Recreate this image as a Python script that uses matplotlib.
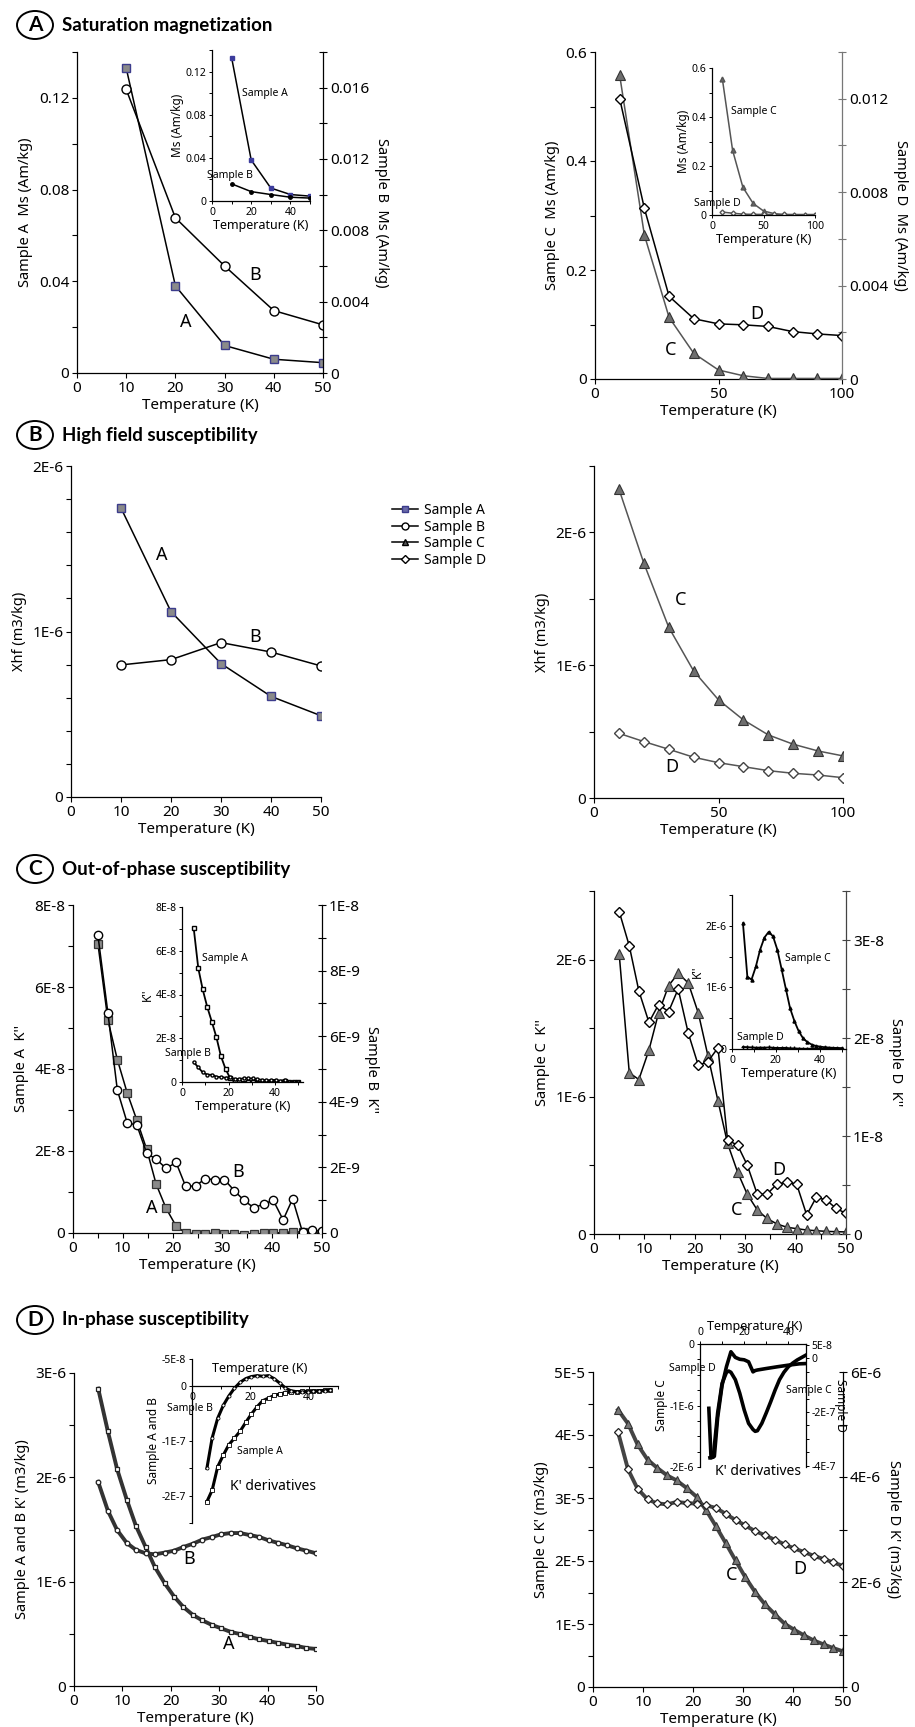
import matplotlib
matplotlib.use("Agg")
import matplotlib.pyplot as plt
from matplotlib.patches import Ellipse
from matplotlib.lines import Line2D

plt.rcParams['font.family'] = ['Noto Sans', 'DejaVu Sans']
plt.rcParams['axes.linewidth'] = 0.9

W, H = 915, 1727
BOLD = ['Lato', 'Open Sans', 'DejaVu Sans']

# ---------------- data ----------------
# A: saturation magnetization
T_ms_ab = [10, 20, 30, 40, 50]
ms_a = [0.133, 0.038, 0.012, 0.006, 0.0045]
ms_b = [0.0159, 0.0087, 0.0060, 0.0035, 0.0027]
T_ms_cd = [10, 20, 30, 40, 50, 60, 70, 80, 90, 100]
ms_c = [0.557, 0.264, 0.113, 0.047, 0.0165, 0.006, 0.001, 0.001, 0.001, 0.001]
ms_d = [0.0120, 0.0073, 0.00354, 0.00258, 0.00236, 0.00232, 0.00225, 0.00203, 0.00193, 0.00186]

# B: high field susceptibility
xhf_a = [1.746e-6, 1.12e-6, 0.806e-6, 0.608e-6, 0.491e-6]
xhf_b = [0.798e-6, 0.830e-6, 0.933e-6, 0.876e-6, 0.792e-6]
xhf_c = [2.327e-6, 1.769e-6, 1.286e-6, 0.957e-6, 0.739e-6, 0.588e-6, 0.475e-6, 0.405e-6, 0.354e-6, 0.317e-6]
xhf_d = [0.487e-6, 0.425e-6, 0.367e-6, 0.307e-6, 0.266e-6, 0.236e-6, 0.206e-6, 0.186e-6, 0.173e-6, 0.153e-6]

# C and D: ac susceptibility temperatures
T_ac = [5.0, 7.0, 8.9, 10.9, 12.8, 14.8, 16.7, 18.7, 20.7, 22.6, 24.6, 26.5,
        28.5, 30.4, 32.4, 34.3, 36.3, 38.3, 40.2, 42.2, 44.1, 46.1, 48.0, 50.0]

# C: out-of-phase susceptibility
kpp_a = [7.06e-8, 5.20e-8, 4.23e-8, 3.41e-8, 2.76e-8, 2.04e-8, 1.19e-8, 0.60e-8, 0.17e-8,
         0.0, -0.02e-8, -0.03e-8, 0.0, -0.02e-8, -0.03e-8, -0.05e-8, -0.03e-8, -0.01e-8,
         0.0, 0.01e-8, 0.03e-8, 0.02e-8, 0.0, 0.0]
kpp_b = [9.08e-9, 6.72e-9, 4.36e-9, 3.35e-9, 3.30e-9, 2.43e-9, 2.25e-9, 1.97e-9, 2.15e-9,
         1.43e-9, 1.43e-9, 1.65e-9, 1.63e-9, 1.63e-9, 1.29e-9, 1.00e-9, 0.77e-9, 0.88e-9,
         1.00e-9, 0.40e-9, 1.04e-9, 0.02e-9, 0.08e-9, 0.05e-9]
kpp_c = [2.04e-6, 1.175e-6, 1.126e-6, 1.34e-6, 1.61e-6, 1.81e-6, 1.90e-6, 1.83e-6, 1.61e-6,
         1.30e-6, 0.97e-6, 0.66e-6, 0.45e-6, 0.29e-6, 0.175e-6, 0.114e-6, 0.073e-6, 0.049e-6,
         0.039e-6, 0.029e-6, 0.024e-6, 0.019e-6, 0.017e-6, 0.015e-6]
kpp_d = [3.29e-8, 2.94e-8, 2.48e-8, 2.16e-8, 2.34e-8, 2.27e-8, 2.50e-8, 2.05e-8, 1.72e-8,
         1.76e-8, 1.90e-8, 0.96e-8, 0.905e-8, 0.704e-8, 0.405e-8, 0.405e-8, 0.51e-8, 0.527e-8,
         0.51e-8, 0.194e-8, 0.374e-8, 0.347e-8, 0.262e-8, 0.21e-8]

# D: in-phase susceptibility
kp_a = [2.85e-6, 2.44e-6, 2.08e-6, 1.786e-6, 1.534e-6, 1.332e-6, 1.141e-6, 0.987e-6, 0.856e-6,
        0.757e-6, 0.680e-6, 0.629e-6, 0.585e-6, 0.553e-6, 0.518e-6, 0.498e-6, 0.470e-6,
        0.447e-6, 0.431e-6, 0.412e-6, 0.396e-6, 0.383e-6, 0.364e-6, 0.355e-6]
kp_b = [1.955e-6, 1.68e-6, 1.495e-6, 1.371e-6, 1.304e-6, 1.272e-6, 1.262e-6, 1.278e-6, 1.297e-6,
        1.332e-6, 1.364e-6, 1.403e-6, 1.428e-6, 1.454e-6, 1.466e-6, 1.466e-6, 1.447e-6,
        1.428e-6, 1.396e-6, 1.371e-6, 1.348e-6, 1.319e-6, 1.297e-6, 1.272e-6]
kp_c = [4.40e-5, 4.18e-5, 3.85e-5, 3.61e-5, 3.48e-5, 3.36e-5, 3.28e-5, 3.16e-5, 3.02e-5,
        2.81e-5, 2.55e-5, 2.29e-5, 2.01e-5, 1.75e-5, 1.51e-5, 1.32e-5, 1.16e-5, 1.005e-5,
        0.91e-5, 0.82e-5, 0.74e-5, 0.677e-5, 0.619e-5, 0.566e-5]
kp_d = [4.857e-6, 4.146e-6, 3.778e-6, 3.575e-6, 3.498e-6, 3.479e-6, 3.524e-6, 3.505e-6,
        3.492e-6, 3.46e-6, 3.41e-6, 3.30e-6, 3.18e-6, 3.08e-6, 2.97e-6, 2.895e-6, 2.806e-6,
        2.717e-6, 2.641e-6, 2.571e-6, 2.50e-6, 2.438e-6, 2.375e-6, 2.305e-6]

# K' derivatives (insets of D)
T_der_ab = [5.1, 6.9, 8.8, 10.7, 12.6, 14.5, 16.5, 18.4, 20.3, 22.3, 24.2, 26.2,
            28.1, 30.0, 32.0, 33.8, 35.8, 37.7, 39.7, 41.6, 43.5, 45.5, 47.4]
dkp_a = [-2.11e-7, -1.90e-7, -1.47e-7, -1.26e-7, -1.07e-7, -0.95e-7, -0.82e-7, -0.66e-7,
         -0.51e-7, -0.374e-7, -0.264e-7, -0.215e-7, -0.166e-7, -0.141e-7, -0.117e-7,
         -0.104e-7, -0.098e-7, -0.092e-7, -0.092e-7, -0.086e-7, -0.08e-7, -0.074e-7, -0.067e-7]
dkp_b = [-1.50e-7, -0.945e-7, -0.583e-7, -0.35e-7, -0.178e-7, -0.037e-7, 0.074e-7, 0.141e-7,
         0.178e-7, 0.196e-7, 0.184e-7, 0.196e-7, 0.141e-7, 0.061e-7, -0.031e-7, -0.08e-7,
         -0.098e-7, -0.104e-7, -0.098e-7, -0.092e-7, -0.086e-7, -0.08e-7, -0.067e-7]
T_der_c = [4.5, 6.0, 8, 10, 12, 13, 14, 16, 18, 20, 22, 24, 25, 26, 28, 30, 32, 34, 36,
           38, 40, 42, 44, 46, 48]
dkp_c = [-1.85e-6, -1.84e-6, -1.12e-6, -0.64e-6, -0.46e-6, -0.44e-6, -0.46e-6, -0.58e-6,
         -0.80e-6, -1.07e-6, -1.29e-6, -1.39e-6, -1.42e-6, -1.41e-6, -1.29e-6, -1.12e-6,
         -0.94e-6, -0.75e-6, -0.58e-6, -0.46e-6, -0.37e-6, -0.31e-6, -0.26e-6, -0.22e-6, -0.18e-6]
T_der_d = [4.0, 5.0, 6.5, 8, 10, 12, 14, 16, 18, 20, 22, 24, 25, 26, 30, 35, 40, 45, 48]
dkp_d = [-1.86e-7, -3.71e-7, -3.65e-7, -2.2e-7, -1.0e-7, -0.3e-7, 0.25e-7, 0.04e-7, -0.03e-7,
         -0.05e-7, -0.125e-7, -0.5e-7, -0.45e-7, -0.43e-7, -0.375e-7, -0.31e-7, -0.25e-7,
         -0.2e-7, -0.19e-7]

# ---------------- styles ----------------
SQ = dict(marker='s', mfc='#8a8a8a', mec='#3c3c8c', mew=1.0)
CI = dict(marker='o', mfc='white', mec='black', mew=1.0)
TR = dict(marker='^', mfc='#6e6e6e', mec='#333333', mew=0.8)
DI = dict(marker='D', mfc='white', mec='black', mew=1.0)
LAB = 10.5

fig = plt.figure(figsize=(W / 100, H / 100), dpi=100)


def box(x0, y0, x1, y1):
    return [x0 / W, 1 - y1 / H, (x1 - x0) / W, (y1 - y0) / H]


def main_ax(rect, xt, xl, xminor=None, fs=11):
    ax = fig.add_axes(box(*rect))
    for s in ['top', 'right']:
        ax.spines[s].set_visible(False)
    ax.set_xticks(xt, labels=xl)
    if xminor:
        ax.set_xticks(xminor, minor=True)
    ax.tick_params(which='both', direction='out', length=3.5, width=0.8, labelsize=fs, pad=2)
    return ax


def right_ax(ax, color='black'):
    tw = ax.twinx()
    for s in ['top', 'left', 'bottom']:
        tw.spines[s].set_visible(False)
    tw.spines['right'].set_color(color)
    tw.tick_params(which='both', direction='inout', length=6, width=0.8, labelsize=11,
                   color=color, pad=2)
    return tw


def yt(ax, major, labels, minor):
    ax.set_yticks(major, labels=labels)
    ax.set_yticks(minor, minor=True)


def inset(rect, fs=7.5):
    ax = fig.add_axes(box(*rect))
    ax.patch.set_alpha(0)
    for s in ['top', 'right']:
        ax.spines[s].set_visible(False)
    ax.tick_params(which='both', direction='out', length=2.5, width=0.7, labelsize=fs, pad=1.5)
    return ax


def header(letter, title, cy):
    fig.patches.append(Ellipse((35 / W, 1 - cy / H), 36 / W, 28 / H, transform=fig.transFigure,
                               fill=False, lw=1.4, color='black'))
    fig.text(35 / W, 1 - cy / H, letter, ha='center', va='center', fontsize=15,
             fontweight='bold', family=BOLD)
    fig.text(62 / W, 1 - cy / H, title, ha='left', va='center', fontsize=13.5,
             fontweight='bold', family=BOLD)


# ================= A =================
header('A', 'Saturation magnetization', 25)

ax = main_ax((77, 52, 323, 373), [0, 10, 20, 30, 40, 50], ['0', '10', '20', '30', '40', '50'])
ax.plot(T_ms_ab, ms_a, color='black', lw=1.1, ms=6, **SQ, zorder=3)
ax.set_xlim(0, 50)
ax.set_ylim(0, 0.14)
yt(ax, [0, 0.04, 0.08, 0.12], ['0', '0.04', '0.08', '0.12'], [0.02, 0.06, 0.10, 0.14])
ax.set_ylabel('Sample A  Ms (Am/kg)', fontsize=LAB, labelpad=4)
ax.set_xlabel('Temperature (K)', fontsize=11, labelpad=2)
ax.text(22.2, 0.0223, 'A', fontsize=13, ha='center', va='center')
ax.text(36.2, 0.0426, 'B', fontsize=13, ha='center', va='center')
tw = right_ax(ax)
tw.plot(T_ms_ab, ms_b, color='black', lw=1.1, ms=6.5, **CI)
tw.set_ylim(0, 0.018)
yt(tw, [0, 0.004, 0.008, 0.012, 0.016], ['0', '0.004', '0.008', '0.012', '0.016'],
   [0.002, 0.006, 0.010, 0.014, 0.018])
tw.set_ylabel('Sample B  Ms (Am/kg)', fontsize=LAB, rotation=270, labelpad=14)
tw.set_xlim(0, 50)

ins = inset((212, 50, 310, 201))
ins.plot(T_ms_ab, ms_a, color='black', lw=1.1, marker='s', ms=2.5, mfc='#3c3c9c', mec='#3c3c9c')
ins.plot(T_ms_ab, ms_b, color='black', lw=1.1, marker='o', ms=2.5, mfc='black', mec='black')
ins.set_xlim(0, 50)
ins.set_ylim(0, 0.14)
ins.set_xticks([0, 20, 40], labels=['0', '20', '40'])
ins.set_xticks([10, 30, 50], minor=True)
yt(ins, [0, 0.04, 0.08, 0.12], ['0', '0.04', '0.08', '0.12'], [0.02, 0.06, 0.10, 0.14])
ins.set_xlabel('Temperature (K)', fontsize=9, labelpad=1)
ins.set_ylabel('Ms (Am/kg)', fontsize=8.5, labelpad=1)
ins.text(27.2, 0.0994, 'Sample A', fontsize=7.5, ha='center', va='center')
ins.text(9.2, 0.0238, 'Sample B', fontsize=7.5, ha='center', va='center')

ax = main_ax((595, 52, 842, 379), [0, 50, 100], ['0', '50', '100'])
ax.plot(T_ms_cd, ms_c, color='#555555', lw=1.1, ms=7, **TR, zorder=3)
ax.set_xlim(0, 100)
ax.set_ylim(0, 0.6)
yt(ax, [0, 0.2, 0.4, 0.6], ['0', '0.2', '0.4', '0.6'], [0.1, 0.3, 0.5])
ax.set_ylabel('Sample C  Ms (Am/kg)', fontsize=LAB, labelpad=4)
ax.set_xlabel('Temperature (K)', fontsize=11, labelpad=2)
ax.text(30.7, 0.053, 'C', fontsize=13, ha='center', va='center')
ax.text(65.5, 0.120, 'D', fontsize=13, ha='center', va='center')
tw = right_ax(ax, color='#777777')
tw.plot(T_ms_cd, ms_d, color='black', lw=1.1, ms=5.5, **DI)
tw.set_ylim(0, 0.014)
yt(tw, [0, 0.004, 0.008, 0.012], ['0', '0.004', '0.008', '0.012'],
   [0.002, 0.006, 0.010, 0.014])
tw.set_ylabel('Sample D  Ms (Am/kg)', fontsize=LAB, rotation=270, labelpad=14)
tw.set_xlim(0, 100)

ins = inset((712, 68, 815, 215))
ins.plot(T_ms_cd, ms_c, color='#555555', lw=1.1, marker='^', ms=3.5, mfc='#666666', mec='#555555')
ins.plot(T_ms_cd, ms_d, color='#555555', lw=1.1, marker='D', ms=2.5, mfc='white', mec='#555555')
ins.set_xlim(0, 100)
ins.set_ylim(0, 0.6)
ins.set_xticks([0, 50, 100], labels=['0', '50', '100'])
yt(ins, [0, 0.2, 0.4, 0.6], ['0', '0.2', '0.4', '0.6'], [0.1, 0.3, 0.5])
ins.set_xlabel('Temperature (K)', fontsize=9, labelpad=1)
ins.set_ylabel('Ms (Am/kg)', fontsize=8.5, labelpad=1)
ins.text(41, 0.423, 'Sample C', fontsize=7.5, ha='center', va='center')
ins.text(4.8, 0.045, 'Sample D', fontsize=7.5, ha='center', va='center')

# ================= B =================
header('B', 'High field susceptibility', 435)

ax = main_ax((71, 466, 321, 797), [0, 10, 20, 30, 40, 50], ['0', '10', '20', '30', '40', '50'])
ax.plot(T_ms_ab, xhf_a, color='black', lw=1.1, ms=6, **SQ, zorder=3)
ax.plot(T_ms_ab, xhf_b, color='black', lw=1.1, ms=6.5, **CI, zorder=3)
ax.set_xlim(0, 50)
ax.set_ylim(0, 2e-6)
yt(ax, [0, 1e-6, 2e-6], ['0', '1E-6', '2E-6'],
   [0.2e-6, 0.4e-6, 0.6e-6, 0.8e-6, 1.2e-6, 1.4e-6, 1.6e-6, 1.8e-6])
ax.set_ylabel('Xhf (m3/kg)', fontsize=LAB, labelpad=4)
ax.set_xlabel('Temperature (K)', fontsize=11, labelpad=2)
ax.text(18.2, 1.46e-6, 'A', fontsize=13, ha='center', va='center')
ax.text(36.9, 0.967e-6, 'B', fontsize=13, ha='center', va='center')

ax = main_ax((594, 466, 843, 798), [0, 50, 100], ['0', '50', '100'])
ax.plot(T_ms_cd, xhf_c, color='#555555', lw=1.1, ms=7, **TR, zorder=3)
ax.plot(T_ms_cd, xhf_d, color='#555555', lw=1.1, ms=5.5, marker='D', mfc='white',
        mec='#444444', mew=1.0, zorder=3)
ax.set_xlim(0, 100)
ax.set_ylim(0, 2.5e-6)
yt(ax, [0, 1e-6, 2e-6], ['0', '1E-6', '2E-6'], [0.5e-6, 1.5e-6, 2.5e-6])
ax.set_ylabel('Xhf (m3/kg)', fontsize=LAB, labelpad=4)
ax.set_xlabel('Temperature (K)', fontsize=11, labelpad=2)
ax.text(34.6, 1.49e-6, 'C', fontsize=13, ha='center', va='center')
ax.text(31.2, 0.236e-6, 'D', fontsize=13, ha='center', va='center')

handles = [
    Line2D([], [], color='black', lw=1.1, marker='s', ms=5, mfc='#6a6aa8', mec='#3c3c8c'),
    Line2D([], [], color='black', lw=1.1, marker='o', ms=5, mfc='white', mec='black'),
    Line2D([], [], color='black', lw=1.1, marker='^', ms=5, mfc='#555555', mec='black'),
    Line2D([], [], color='black', lw=1.1, marker='D', ms=4, mfc='white', mec='black'),
]
fig.legend(handles, ['Sample A', 'Sample B', 'Sample C', 'Sample D'], loc='upper left',
           bbox_to_anchor=(385 / W, 1 - 496 / H), frameon=False, fontsize=10,
           labelspacing=0.12, handlelength=1.9, handletextpad=0.4, borderpad=0)

# ================= C =================
header('C', 'Out-of-phase susceptibility', 869)

xt5 = [0, 10, 20, 30, 40, 50]
xl5 = ['0', '10', '20', '30', '40', '50']
ax = main_ax((73, 905, 322, 1233), xt5, xl5, xminor=[5, 15, 25, 35, 45])
ax.plot(T_ac, kpp_a, color='black', lw=1.1, ms=5.5, marker='s', mfc='#8a8a8a', mec='#333333',
        mew=0.9, zorder=3)
ax.set_xlim(0, 50)
ax.set_ylim(0, 8e-8)
yt(ax, [0, 2e-8, 4e-8, 6e-8, 8e-8], ['0', '2E-8', '4E-8', '6E-8', '8E-8'],
   [1e-8, 3e-8, 5e-8, 7e-8])
ax.set_ylabel("Sample A  K''", fontsize=LAB, labelpad=4)
ax.set_xlabel('Temperature (K)', fontsize=11, labelpad=2)
ax.text(15.9, 0.6e-8, 'A', fontsize=13, ha='center', va='center')
ax.text(33.1, 1.49e-8, 'B', fontsize=13, ha='center', va='center')
tw = right_ax(ax)
tw.plot(T_ac, kpp_b, color='black', lw=1.1, ms=6, **CI)
tw.set_ylim(0, 1e-8)
yt(tw, [0, 2e-9, 4e-9, 6e-9, 8e-9, 1e-8], ['0', '2E-9', '4E-9', '6E-9', '8E-9', '1E-8'],
   [1e-9, 3e-9, 5e-9, 7e-9, 9e-9])
tw.set_ylabel("Sample B  K''", fontsize=LAB, rotation=270, labelpad=14)
tw.set_xlim(0, 50)

ins = inset((182, 907, 303, 1082))
ins.plot(T_ac, kpp_a, color='black', lw=1.3, marker='s', ms=2.2, mfc='white', mec='black')
ins.plot(T_ac, kpp_b, color='black', lw=1.3, marker='o', ms=2.2, mfc='white', mec='black')
ins.set_xlim(0, 52)
ins.set_ylim(0, 8e-8)
ins.set_xticks([0, 20, 40], labels=['0', '20', '40'])
ins.set_xticks([10, 30, 50], minor=True)
yt(ins, [0, 2e-8, 4e-8, 6e-8, 8e-8], ['0', '2E-8', '4E-8', '6E-8', '8E-8'],
   [1e-8, 3e-8, 5e-8, 7e-8])
ins.set_xlabel('Temperature (K)', fontsize=9, labelpad=1)
ins.set_ylabel("K''", fontsize=8.5, labelpad=1)
ins.text(18.3, 5.63e-8, 'Sample A', fontsize=7.5, ha='center', va='center')
ins.text(2.7, 1.3e-8, 'Sample B', fontsize=7.5, ha='center', va='center')

ax = main_ax((594, 891, 846, 1234), xt5, xl5, xminor=[5, 15, 25, 35, 45])
ax.plot(T_ac, kpp_c, color='black', lw=1.1, ms=6.5, marker='^', mfc='#7a7a7a', mec='#333333',
        mew=0.8, zorder=3)
ax.set_xlim(0, 50)
ax.set_ylim(0, 2.5e-6)
yt(ax, [0, 1e-6, 2e-6], ['0', '1E-6', '2E-6'], [0.5e-6, 1.5e-6, 2.5e-6])
ax.set_ylabel("Sample C  K''", fontsize=LAB, labelpad=4)
ax.set_xlabel('Temperature (K)', fontsize=11, labelpad=2)
ax.text(28.3, 0.175e-6, 'C', fontsize=13, ha='center', va='center')
ax.text(36.6, 0.47e-6, 'D', fontsize=13, ha='center', va='center')
tw = right_ax(ax, color='#444444')
tw.plot(T_ac, kpp_d, color='black', lw=1.1, ms=5.5, **DI)
tw.set_ylim(0, 3.5e-8)
yt(tw, [0, 1e-8, 2e-8, 3e-8], ['0', '1E-8', '2E-8', '3E-8'], [0.5e-8, 1.5e-8, 2.5e-8, 3.5e-8])
tw.set_ylabel("Sample D  K''", fontsize=LAB, rotation=270, labelpad=14)
tw.set_xlim(0, 50)

ins = inset((732, 895, 846, 1049))
ins.plot(T_ac, kpp_c, color='black', lw=1.3, marker='^', ms=2.2, mfc='black', mec='black')
ins.plot(T_ac, kpp_d, color='black', lw=1.3, marker='+', ms=3, mec='black')
ins.set_xlim(0, 52)
ins.set_ylim(0, 2.5e-6)
ins.set_xticks([0, 20, 40], labels=['0', '20', '40'])
ins.set_xticks([10, 30, 50], minor=True)
yt(ins, [0, 1e-6, 2e-6], ['0', '1E-6', '2E-6'], [0.5e-6, 1.5e-6, 2.5e-6])
ins.set_xlabel('Temperature (K)', fontsize=9, labelpad=1)
ins.set_ylabel("K''", fontsize=8.5, labelpad=1)
ins.text(34.8, 1.47e-6, 'Sample C', fontsize=7.5, ha='center', va='center')
ins.text(12.9, 0.19e-6, 'Sample D', fontsize=7.5, ha='center', va='center')

# ================= D =================
header('D', 'In-phase susceptibility', 1320)

ax = main_ax((74, 1373, 316, 1686), xt5, xl5)
ax.plot(T_ac, kp_a, color='#333333', lw=2.8, marker='s', ms=3.3, mfc='white', mec='#222222',
        mew=0.9, zorder=3)
ax.plot(T_ac, kp_b, color='#333333', lw=2.8, marker='o', ms=3.3, mfc='white', mec='#222222',
        mew=0.9, zorder=3)
ax.set_xlim(0, 50)
ax.set_ylim(0, 3e-6)
yt(ax, [0, 1e-6, 2e-6, 3e-6], ['0', '1E-6', '2E-6', '3E-6'], [0.5e-6, 1.5e-6, 2.5e-6])
ax.set_ylabel("Sample A and B K' (m3/kg)", fontsize=LAB, labelpad=4)
ax.set_xlabel('Temperature (K)', fontsize=11, labelpad=2)
ax.text(31.9, 0.406e-6, 'A', fontsize=13, ha='center', va='center')
ax.text(23.8, 1.22e-6, 'B', fontsize=13, ha='center', va='center')

ins = inset((192, 1359, 338, 1523))
ins.spines['bottom'].set_position(('data', 0))
ins.plot(T_der_ab, dkp_a, color='black', lw=2.2, marker='s', ms=2.2, mfc='white', mec='black',
         mew=0.6)
ins.plot(T_der_ab, dkp_b, color='black', lw=2.2, marker='o', ms=2.2, mfc='white', mec='black',
         mew=0.6)
ins.set_xlim(0, 50)
ins.set_ylim(-2.5e-7, 5e-8)
ins.set_xticks([0, 20, 40], labels=['0', '20', '40'])
ins.set_xticks([10, 30, 50], minor=True)
yt(ins, [5e-8, 0, -1e-7, -2e-7], ['-5E-8', '0', '-1E-7', '-2E-7'], [-5e-8, -1.5e-7, -2.5e-7])
ins.set_ylabel('Sample A and B', fontsize=8.5, labelpad=1)
ins.text(23.3, 0.33e-7, 'Temperature (K)', fontsize=9, ha='center', va='center')
ins.text(-0.7, -0.405e-7, 'Sample B', fontsize=7.5, ha='center', va='center')
ins.text(23.3, -1.2e-7, 'Sample A', fontsize=7.5, ha='center', va='center')
ins.text(27.9, -1.83e-7, "K' derivatives", fontsize=10, ha='center', va='center')

ax = main_ax((593, 1372, 843, 1687), xt5, xl5)
ax.plot(T_ac, kp_c, color='#444444', lw=2.8, ms=5.5, marker='^', mfc='#777777', mec='#333333',
        mew=0.8, zorder=3)
ax.set_xlim(0, 50)
ax.set_ylim(0, 5e-5)
yt(ax, [0, 1e-5, 2e-5, 3e-5, 4e-5, 5e-5], ['0', '1E-5', '2E-5', '3E-5', '4E-5', '5E-5'],
   [0.5e-5, 1.5e-5, 2.5e-5, 3.5e-5, 4.5e-5])
ax.set_ylabel("Sample C K' (m3/kg)", fontsize=LAB, labelpad=4)
ax.set_xlabel('Temperature (K)', fontsize=11, labelpad=2)
ax.text(27.7, 1.77e-5, 'C', fontsize=13, ha='center', va='center')
ax.text(41.3, 1.88e-5, 'D', fontsize=13, ha='center', va='center')
tw = right_ax(ax)
tw.plot(T_ac, kp_d, color='#444444', lw=2.8, ms=4, marker='D', mfc='white', mec='#222222',
        mew=0.9)
tw.set_ylim(0, 6e-6)
yt(tw, [0, 2e-6, 4e-6, 6e-6], ['0', '2E-6', '4E-6', '6E-6'], [1e-6, 3e-6, 5e-6])
tw.set_ylabel("Sample D K' (m3/kg)", fontsize=LAB, rotation=270, labelpad=14)
tw.set_xlim(0, 50)

ins = inset((700, 1344, 806, 1467))
ins.spines['top'].set_visible(True)
ins.spines['bottom'].set_visible(False)
ins.xaxis.tick_top()
ins.plot(T_der_c, dkp_c, color='black', lw=2.6)
ins.set_xlim(0, 48)
ins.set_ylim(-2e-6, 0)
ins.set_xticks([0, 20, 40], labels=['0', '20', '40'])
ins.set_xticks([10, 30], minor=True)
yt(ins, [0, -1e-6, -2e-6], ['0', '-1E-6', '-2E-6'],
   [-0.25e-6, -0.5e-6, -0.75e-6, -1.25e-6, -1.5e-6, -1.75e-6])
ins.set_ylabel('Sample C', fontsize=8.5, labelpad=1)
ins.text(0.52, 1.09, 'Temperature (K)', fontsize=9, ha='center', va='bottom',
         transform=ins.transAxes)
ins.text(-0.07, 0.80, 'Sample D', fontsize=7.5, ha='center', va='center', transform=ins.transAxes)
ins.text(1.03, 0.626, 'Sample C', fontsize=7.5, ha='center', va='center', transform=ins.transAxes)
ins.text(0.55, -0.04, "K' derivatives", fontsize=10, ha='center', va='center',
         transform=ins.transAxes)
tw = ins.twinx()
for s in ['top', 'left', 'bottom']:
    tw.spines[s].set_visible(False)
tw.plot(T_der_d, dkp_d, color='black', lw=2.6)
tw.set_xlim(0, 48)
tw.set_ylim(-4.05e-7, 5.4e-8)
yt(tw, [5e-8, 0, -2e-7, -4e-7], ['5E-8', '0', '-2E-7', '-4E-7'],
   [-0.5e-7, -1e-7, -1.5e-7, -2.5e-7, -3e-7, -3.5e-7])
tw.tick_params(which='both', direction='out', length=2.5, width=0.7, labelsize=7.5, pad=1.5)
tw.set_ylabel('Sample D', fontsize=8.5, rotation=270, labelpad=8)

fig.savefig('out.png', dpi=100)
